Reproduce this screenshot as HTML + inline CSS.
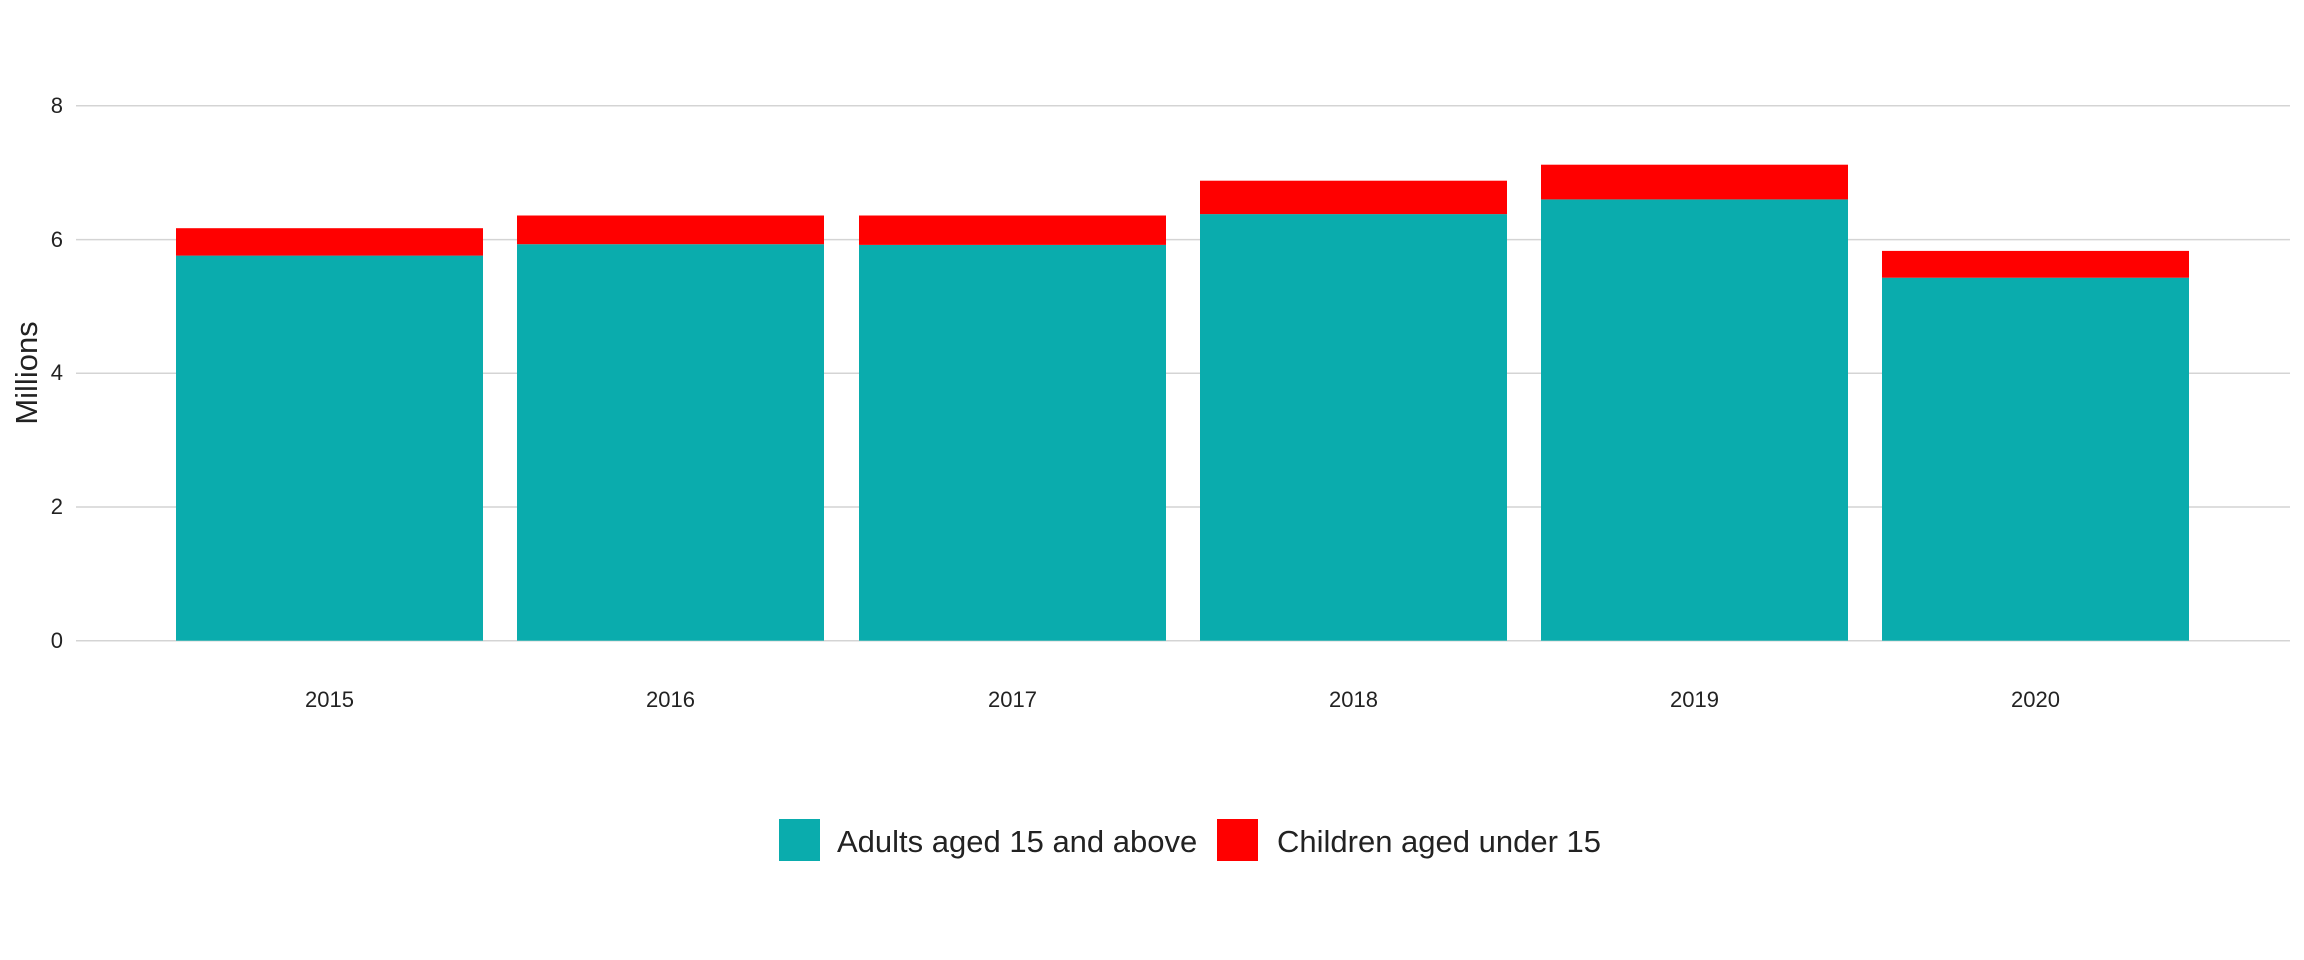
<!DOCTYPE html>
<html><head><style>body{margin:0;background:#fff}svg{display:block}</style></head><body>
<svg width="2304" height="960" xmlns="http://www.w3.org/2000/svg" font-family="Liberation Sans, sans-serif" fill="#222">
<g stroke="#d4d4d4" stroke-width="1.5">
<line x1="76" x2="2290" y1="640.7" y2="640.7"/>
<line x1="76" x2="2290" y1="507" y2="507"/>
<line x1="76" x2="2290" y1="373.3" y2="373.3"/>
<line x1="76" x2="2290" y1="239.6" y2="239.6"/>
<line x1="76" x2="2290" y1="105.8" y2="105.8"/>
</g>
<g font-size="22" text-anchor="end">
<text x="63" y="648">0</text><text x="63" y="514">2</text><text x="63" y="380">4</text><text x="63" y="247">6</text><text x="63" y="113">8</text>
</g>
<text transform="translate(37,373) rotate(-90)" font-size="31" text-anchor="middle">Millions</text>
<g fill="#0aacad">
<rect x="176" y="255.6" width="307" height="385.1"/>
<rect x="517" y="244.2" width="307" height="396.5"/>
<rect x="859" y="244.9" width="307" height="395.8"/>
<rect x="1200" y="214.1" width="307" height="426.6"/>
<rect x="1541" y="199.4" width="307" height="441.3"/>
<rect x="1882" y="277.7" width="307" height="363"/>
</g>
<g fill="#ff0000">
<rect x="176" y="228.2" width="307" height="27.4"/>
<rect x="517" y="215.5" width="307" height="28.7"/>
<rect x="859" y="215.5" width="307" height="29.4"/>
<rect x="1200" y="180.7" width="307" height="33.4"/>
<rect x="1541" y="164.7" width="307" height="34.7"/>
<rect x="1882" y="250.9" width="307" height="26.8"/>
</g>
<g font-size="22" text-anchor="middle">
<text x="329.5" y="707">2015</text><text x="670.5" y="707">2016</text><text x="1012.5" y="707">2017</text><text x="1353.5" y="707">2018</text><text x="1694.5" y="707">2019</text><text x="2035.5" y="707">2020</text>
</g>
<rect x="779" y="819" width="41" height="42" fill="#0aacad"/>
<text x="837" y="852" font-size="31">Adults aged 15 and above</text>
<rect x="1217" y="819" width="41" height="42" fill="#ff0000"/>
<text x="1277" y="852" font-size="31">Children aged under 15</text>
</svg>
</body></html>
